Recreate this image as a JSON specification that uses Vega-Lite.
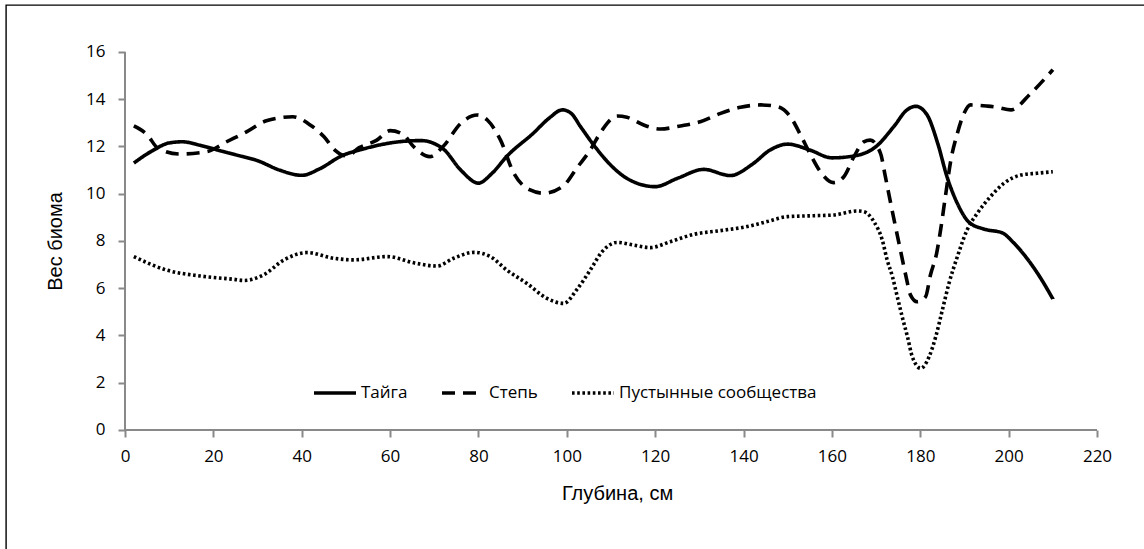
{
  "$schema": "https://vega.github.io/schema/vega-lite/v6.json",
  "width": 1140,
  "height": 546,
  "autosize": {"type": "none"},
  "padding": {"left": 6, "top": 5, "right": -2, "bottom": -2},
  "background": "white",
  "config": {
    "view": {"stroke": "#000000", "strokeWidth": 1.4},
    "font": "Open Sans"
  },
  "datasets": {
    "series": [
      {"depth": 2, "value": 11.3, "series": "Тайга"},
      {"depth": 6, "value": 11.8, "series": "Тайга"},
      {"depth": 10, "value": 12.15, "series": "Тайга"},
      {"depth": 13, "value": 12.2, "series": "Тайга"},
      {"depth": 17, "value": 12.05, "series": "Тайга"},
      {"depth": 21, "value": 11.85, "series": "Тайга"},
      {"depth": 25, "value": 11.65, "series": "Тайга"},
      {"depth": 30, "value": 11.4, "series": "Тайга"},
      {"depth": 35, "value": 11.0, "series": "Тайга"},
      {"depth": 40, "value": 10.78, "series": "Тайга"},
      {"depth": 44, "value": 11.05, "series": "Тайга"},
      {"depth": 49, "value": 11.6, "series": "Тайга"},
      {"depth": 54, "value": 11.9, "series": "Тайга"},
      {"depth": 58, "value": 12.08, "series": "Тайга"},
      {"depth": 62, "value": 12.2, "series": "Тайга"},
      {"depth": 67, "value": 12.25, "series": "Тайга"},
      {"depth": 72, "value": 11.9, "series": "Тайга"},
      {"depth": 76, "value": 11.0, "series": "Тайга"},
      {"depth": 80, "value": 10.45, "series": "Тайга"},
      {"depth": 83, "value": 10.85, "series": "Тайга"},
      {"depth": 86.5, "value": 11.6, "series": "Тайга"},
      {"depth": 92.4, "value": 12.56, "series": "Тайга"},
      {"depth": 96, "value": 13.2, "series": "Тайга"},
      {"depth": 99, "value": 13.55, "series": "Тайга"},
      {"depth": 101, "value": 13.4, "series": "Тайга"},
      {"depth": 103.1, "value": 12.84, "series": "Тайга"},
      {"depth": 106.1, "value": 12.06, "series": "Тайга"},
      {"depth": 109.9, "value": 11.22, "series": "Тайга"},
      {"depth": 113.6, "value": 10.65, "series": "Тайга"},
      {"depth": 120, "value": 10.3, "series": "Тайга"},
      {"depth": 125, "value": 10.65, "series": "Тайга"},
      {"depth": 131, "value": 11.03, "series": "Тайга"},
      {"depth": 137, "value": 10.77, "series": "Тайга"},
      {"depth": 142, "value": 11.25, "series": "Тайга"},
      {"depth": 146, "value": 11.85, "series": "Тайга"},
      {"depth": 150, "value": 12.1, "series": "Тайга"},
      {"depth": 155, "value": 11.85, "series": "Тайга"},
      {"depth": 160, "value": 11.52, "series": "Тайга"},
      {"depth": 165, "value": 11.6, "series": "Тайга"},
      {"depth": 170, "value": 12.0, "series": "Тайга"},
      {"depth": 174, "value": 12.84, "series": "Тайга"},
      {"depth": 177, "value": 13.55, "series": "Тайга"},
      {"depth": 179, "value": 13.7, "series": "Тайга"},
      {"depth": 181.5, "value": 13.35, "series": "Тайга"},
      {"depth": 184, "value": 12.1, "series": "Тайга"},
      {"depth": 186, "value": 10.75, "series": "Тайга"},
      {"depth": 188.5, "value": 9.55, "series": "Тайга"},
      {"depth": 191, "value": 8.8, "series": "Тайга"},
      {"depth": 194.5, "value": 8.5, "series": "Тайга"},
      {"depth": 198.5, "value": 8.35, "series": "Тайга"},
      {"depth": 201, "value": 7.95, "series": "Тайга"},
      {"depth": 204, "value": 7.3, "series": "Тайга"},
      {"depth": 207, "value": 6.5, "series": "Тайга"},
      {"depth": 210, "value": 5.55, "series": "Тайга"},

      {"depth": 2, "value": 12.87, "series": "Степь"},
      {"depth": 5, "value": 12.5, "series": "Степь"},
      {"depth": 7.5, "value": 11.92, "series": "Степь"},
      {"depth": 12.5, "value": 11.68, "series": "Степь"},
      {"depth": 18.5, "value": 11.78, "series": "Степь"},
      {"depth": 23, "value": 12.2, "series": "Степь"},
      {"depth": 27.6, "value": 12.63, "series": "Степь"},
      {"depth": 32, "value": 13.09, "series": "Степь"},
      {"depth": 38, "value": 13.26, "series": "Степь"},
      {"depth": 42, "value": 12.9, "series": "Степь"},
      {"depth": 45, "value": 12.42, "series": "Степь"},
      {"depth": 47.5, "value": 11.85, "series": "Степь"},
      {"depth": 50.2, "value": 11.6, "series": "Степь"},
      {"depth": 53, "value": 11.95, "series": "Степь"},
      {"depth": 57, "value": 12.27, "series": "Степь"},
      {"depth": 60, "value": 12.67, "series": "Степь"},
      {"depth": 63, "value": 12.5, "series": "Степь"},
      {"depth": 65.3, "value": 12.0, "series": "Степь"},
      {"depth": 69, "value": 11.57, "series": "Степь"},
      {"depth": 72, "value": 12.0, "series": "Степь"},
      {"depth": 76, "value": 12.98, "series": "Степь"},
      {"depth": 79.7, "value": 13.33, "series": "Степь"},
      {"depth": 82, "value": 13.12, "series": "Степь"},
      {"depth": 85, "value": 12.27, "series": "Степь"},
      {"depth": 88, "value": 10.87, "series": "Степь"},
      {"depth": 91.7, "value": 10.16, "series": "Степь"},
      {"depth": 94.7, "value": 10.02, "series": "Степь"},
      {"depth": 99.3, "value": 10.35, "series": "Степь"},
      {"depth": 102.3, "value": 11.1, "series": "Степь"},
      {"depth": 105.3, "value": 11.85, "series": "Степь"},
      {"depth": 108, "value": 12.7, "series": "Степь"},
      {"depth": 111.4, "value": 13.29, "series": "Степь"},
      {"depth": 113.6, "value": 13.24, "series": "Степь"},
      {"depth": 117.4, "value": 12.91, "series": "Степь"},
      {"depth": 121.2, "value": 12.74, "series": "Степь"},
      {"depth": 125.7, "value": 12.87, "series": "Степь"},
      {"depth": 130.2, "value": 13.05, "series": "Степь"},
      {"depth": 134.8, "value": 13.4, "series": "Степь"},
      {"depth": 139.3, "value": 13.66, "series": "Степь"},
      {"depth": 143.8, "value": 13.76, "series": "Степь"},
      {"depth": 147.6, "value": 13.69, "series": "Степь"},
      {"depth": 150.6, "value": 13.26, "series": "Степь"},
      {"depth": 152.9, "value": 12.49, "series": "Степь"},
      {"depth": 155.2, "value": 11.64, "series": "Степь"},
      {"depth": 157.4, "value": 10.93, "series": "Степь"},
      {"depth": 160.4, "value": 10.47, "series": "Степь"},
      {"depth": 162.7, "value": 10.72, "series": "Степь"},
      {"depth": 165, "value": 11.57, "series": "Степь"},
      {"depth": 167.2, "value": 12.2, "series": "Степь"},
      {"depth": 168.7, "value": 12.27, "series": "Степь"},
      {"depth": 171, "value": 11.71, "series": "Степь"},
      {"depth": 172.1, "value": 10.72, "series": "Степь"},
      {"depth": 173.3, "value": 9.6, "series": "Степь"},
      {"depth": 174.4, "value": 8.6, "series": "Степь"},
      {"depth": 175.5, "value": 7.62, "series": "Степь"},
      {"depth": 176.7, "value": 6.56, "series": "Степь"},
      {"depth": 177.8, "value": 5.71, "series": "Степь"},
      {"depth": 179.3, "value": 5.43, "series": "Степь"},
      {"depth": 181.2, "value": 5.64, "series": "Степь"},
      {"depth": 182.3, "value": 6.56, "series": "Степь"},
      {"depth": 183.7, "value": 7.48, "series": "Степь"},
      {"depth": 184.6, "value": 8.47, "series": "Степь"},
      {"depth": 185.7, "value": 9.9, "series": "Степь"},
      {"depth": 186.9, "value": 11.4, "series": "Степь"},
      {"depth": 188.4, "value": 12.56, "series": "Степь"},
      {"depth": 189.9, "value": 13.4, "series": "Степь"},
      {"depth": 191.4, "value": 13.76, "series": "Степь"},
      {"depth": 195.2, "value": 13.71, "series": "Степь"},
      {"depth": 197.4, "value": 13.66, "series": "Степь"},
      {"depth": 200.5, "value": 13.55, "series": "Степь"},
      {"depth": 205, "value": 14.25, "series": "Степь"},
      {"depth": 210, "value": 15.25, "series": "Степь"},

      {"depth": 2, "value": 7.34, "series": "Пустынные сообщества"},
      {"depth": 9.4, "value": 6.77, "series": "Пустынные сообщества"},
      {"depth": 17, "value": 6.52, "series": "Пустынные сообщества"},
      {"depth": 24.5, "value": 6.38, "series": "Пустынные сообщества"},
      {"depth": 27, "value": 6.33, "series": "Пустынные сообщества"},
      {"depth": 31.3, "value": 6.56, "series": "Пустынные сообщества"},
      {"depth": 36, "value": 7.2, "series": "Пустынные сообщества"},
      {"depth": 41.2, "value": 7.51, "series": "Пустынные сообщества"},
      {"depth": 47.2, "value": 7.27, "series": "Пустынные сообщества"},
      {"depth": 51.7, "value": 7.2, "series": "Пустынные сообщества"},
      {"depth": 59.3, "value": 7.34, "series": "Пустынные сообщества"},
      {"depth": 66, "value": 7.05, "series": "Пустынные сообщества"},
      {"depth": 70.6, "value": 6.94, "series": "Пустынные сообщества"},
      {"depth": 74.4, "value": 7.27, "series": "Пустынные сообщества"},
      {"depth": 79, "value": 7.52, "series": "Пустынные сообщества"},
      {"depth": 82.7, "value": 7.34, "series": "Пустынные сообщества"},
      {"depth": 86.4, "value": 6.77, "series": "Пустынные сообщества"},
      {"depth": 91, "value": 6.2, "series": "Пустынные сообщества"},
      {"depth": 95.5, "value": 5.57, "series": "Пустынные сообщества"},
      {"depth": 99.3, "value": 5.36, "series": "Пустынные сообщества"},
      {"depth": 102.3, "value": 5.95, "series": "Пустынные сообщества"},
      {"depth": 105.3, "value": 6.77, "series": "Пустынные сообщества"},
      {"depth": 108, "value": 7.55, "series": "Пустынные сообщества"},
      {"depth": 111.4, "value": 7.94, "series": "Пустынные сообщества"},
      {"depth": 115.1, "value": 7.83, "series": "Пустынные сообщества"},
      {"depth": 118.9, "value": 7.72, "series": "Пустынные сообщества"},
      {"depth": 123.4, "value": 7.97, "series": "Пустынные сообщества"},
      {"depth": 128.7, "value": 8.28, "series": "Пустынные сообщества"},
      {"depth": 134.8, "value": 8.44, "series": "Пустынные сообщества"},
      {"depth": 140.8, "value": 8.61, "series": "Пустынные сообщества"},
      {"depth": 145.3, "value": 8.82, "series": "Пустынные сообщества"},
      {"depth": 149.9, "value": 9.03, "series": "Пустынные сообщества"},
      {"depth": 155.9, "value": 9.07, "series": "Пустынные сообщества"},
      {"depth": 160.4, "value": 9.1, "series": "Пустынные сообщества"},
      {"depth": 165.7, "value": 9.27, "series": "Пустынные сообщества"},
      {"depth": 167.2, "value": 9.24, "series": "Пустынные сообщества"},
      {"depth": 169.5, "value": 8.82, "series": "Пустынные сообщества"},
      {"depth": 171.4, "value": 8.04, "series": "Пустынные сообщества"},
      {"depth": 172.5, "value": 7.2, "series": "Пустынные сообщества"},
      {"depth": 173.7, "value": 6.49, "series": "Пустынные сообщества"},
      {"depth": 174.8, "value": 5.64, "series": "Пустынные сообщества"},
      {"depth": 175.9, "value": 4.8, "series": "Пустынные сообщества"},
      {"depth": 177.1, "value": 3.95, "series": "Пустынные сообщества"},
      {"depth": 178.2, "value": 3.1, "series": "Пустынные сообщества"},
      {"depth": 180.1, "value": 2.61, "series": "Пустынные сообщества"},
      {"depth": 182, "value": 3.1, "series": "Пустынные сообщества"},
      {"depth": 183.5, "value": 3.95, "series": "Пустынные сообщества"},
      {"depth": 185, "value": 5.08, "series": "Пустынные сообщества"},
      {"depth": 186.5, "value": 6.21, "series": "Пустынные сообщества"},
      {"depth": 188.4, "value": 7.34, "series": "Пустынные сообщества"},
      {"depth": 190.6, "value": 8.47, "series": "Пустынные сообщества"},
      {"depth": 192.9, "value": 9.17, "series": "Пустынные сообщества"},
      {"depth": 195.9, "value": 9.88, "series": "Пустынные сообщества"},
      {"depth": 198.9, "value": 10.44, "series": "Пустынные сообщества"},
      {"depth": 202.7, "value": 10.79, "series": "Пустынные сообщества"},
      {"depth": 206.5, "value": 10.87, "series": "Пустынные сообщества"},
      {"depth": 210, "value": 10.93, "series": "Пустынные сообщества"}
    ]
  },
  "layer": [
    {
      "data": {"values": [{}]},
      "mark": {"type": "rule", "color": "#898989", "strokeWidth": 2},
      "encoding": {
        "x": {"datum": 0, "type": "quantitative", "scale": {"domain": [-26.934, 231.09], "nice": false, "zero": false}},
        "y": {"datum": 0, "type": "quantitative", "scale": {"domain": [-5.1217, 17.989], "nice": false, "zero": false}},
        "y2": {"datum": 16}
      }
    },
    {
      "data": {"values": [{}]},
      "mark": {"type": "rule", "color": "#898989", "strokeWidth": 2},
      "encoding": {
        "x": {"datum": 0, "type": "quantitative", "scale": {"domain": [-26.934, 231.09], "nice": false, "zero": false}},
        "x2": {"datum": 220},
        "y": {"datum": 0, "type": "quantitative", "scale": {"domain": [-5.1217, 17.989], "nice": false, "zero": false}}
      }
    },
    {
      "data": {"name": "series"},
      "mark": {"type": "line", "interpolate": "monotone", "color": "#000000", "strokeWidth": 3.6},
      "encoding": {
        "x": {
          "field": "depth", "type": "quantitative",
          "scale": {"domain": [-26.934, 231.09], "nice": false, "zero": false},
          "axis": {
            "title": "Глубина, см",
            "values": [0, 20, 40, 60, 80, 100, 120, 140, 160, 180, 200, 220],
            "offset": -121,
            "domain": false, "grid": false,
            "ticks": true, "tickSize": 7, "tickWidth": 2, "tickColor": "#898989",
            "labelFont": "Open Sans", "labelFontSize": 17, "labelColor": "#000000", "labelPadding": 11,
            "labelFlush": false, "labelOverlap": false,
            "titleFont": "Liberation Sans", "titleFontSize": 20, "titleFontWeight": "normal", "titleColor": "#000000",
            "titleX": 611, "titleY": 63, "titleAlign": "center", "titleBaseline": "middle"
          }
        },
        "y": {
          "field": "value", "type": "quantitative",
          "scale": {"domain": [-5.1217, 17.989], "nice": false, "zero": false},
          "axis": {
            "title": "Вес биома",
            "values": [0, 2, 4, 6, 8, 10, 12, 14, 16],
            "offset": -119,
            "domain": false, "grid": false,
            "ticks": true, "tickSize": 7, "tickWidth": 2, "tickColor": "#898989",
            "labelFont": "Open Sans", "labelFontSize": 17, "labelColor": "#000000", "labelPadding": 13,
            "labelFlush": false, "labelOverlap": false,
            "titleFont": "Liberation Sans", "titleFontSize": 20, "titleFontWeight": "normal", "titleColor": "#000000",
            "titleX": -70, "titleY": 236, "titleAngle": -90, "titleAlign": "center", "titleBaseline": "middle"
          }
        },
        "strokeDash": {
          "field": "series", "type": "nominal",
          "scale": {
            "domain": ["Тайга", "Степь", "Пустынные сообщества"],
            "range": [[1, 0], [13, 8], [2.6, 2.6]]
          },
          "legend": {
            "title": null,
            "orient": "none",
            "legendX": 306,
            "legendY": 365,
            "direction": "horizontal",
            "padding": 0,
            "symbolType": "stroke",
            "symbolSize": 1764,
            "symbolStrokeWidth": 3.6,
            "symbolStrokeColor": "#000000",
            "labelFont": "Open Sans",
            "labelFontSize": 17,
            "labelColor": "#000000",
            "labelOffset": 3,
            "columnPadding": 26,
            "labelLimit": 400
          }
        }
      }
    }
  ]
}
